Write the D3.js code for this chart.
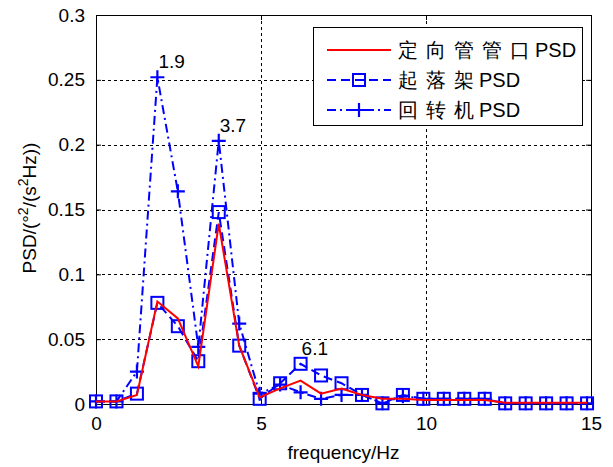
<!DOCTYPE html>
<html>
<head>
<meta charset="utf-8">
<script src="https://cdn.jsdelivr.net/npm/d3@7"></script>
<style>
  html, body { margin: 0; padding: 0; background: #fff; }
  svg { display: block; }
  text { font-family: Arial, "Liberation Sans", sans-serif; fill: #000; }
</style>
</head>
<body>
<svg id="chart" width="613" height="467"></svg>
<script>
// Frequency bins (Hz)
const freqs = [0, 0.62, 1.24, 1.86, 2.48, 3.10, 3.72, 4.34, 4.96, 5.58, 6.20, 6.82, 7.44,
               8.06, 8.68, 9.30, 9.92, 10.54, 11.16, 11.78, 12.40, 13.02, 13.64, 14.26, 14.88];

// PSD values per source
const nozzlePSD = [0.002, 0.002, 0.007, 0.079, 0.066, 0.029, 0.139, 0.045, 0.005, 0.012, 0.018, 0.008, 0.012,
                   0.007, 0.004, 0.004, 0.003, 0.003, 0.003, 0.003, 0.001, 0.001, 0.001, 0.001, 0.001];
const gearPSD   = [0.002, 0.002, 0.008, 0.078, 0.060, 0.033, 0.148, 0.045, 0.004, 0.016, 0.031, 0.022, 0.016,
                   0.007, 0.0005, 0.007, 0.004, 0.004, 0.004, 0.004, 0.0005, 0.0005, 0.0005, 0.0005, 0.0005];
const slewPSD   = [0.002, 0.002, 0.025, 0.252, 0.164, 0.044, 0.203, 0.062, 0.008, 0.015, 0.009, 0.004, 0.007,
                   0.007, 0.0005, 0.006, 0.004, 0.004, 0.004, 0.004, 0.0005, 0.0005, 0.0005, 0.0005, 0.0005];

const seriesNames = ["定向管管口", "起落架", "回转机"];

const xTicks = [0, 5, 10, 15];
const yTicks = [0, 0.05, 0.1, 0.15, 0.2, 0.25, 0.3];
const yTickLabels = ["0", "0.05", "0.1", "0.15", "0.2", "0.25", "0.3"];

// Peak annotations: text, series, bin index
const peakLabels = [
  { text: "1.9", series: 2, index: 3 },
  { text: "3.7", series: 2, index: 6 },
  { text: "6.1", series: 1, index: 10 }
];

const svg = d3.select("#chart");
const plot = { left: 96, right: 591, top: 15, bottom: 404 };
const FS = 19;

const x = d3.scaleLinear().domain([0, 15]).range([plot.left, plot.right]);
const y = d3.scaleLinear().domain([0, 0.3]).range([plot.bottom, plot.top]);

const blue = "#0000ff", red = "#ff0000";

// Grid
const grid = svg.append("g");
grid.selectAll("line.gx").data(xTicks.slice(1, -1)).join("line")
  .attr("x1", d => Math.round(x(d)) + 0.5).attr("x2", d => Math.round(x(d)) + 0.5)
  .attr("y1", plot.top).attr("y2", plot.bottom)
  .attr("stroke", "#000").attr("stroke-width", 1).attr("stroke-dasharray", "3,3");
grid.selectAll("line.gy").data(yTicks.slice(1, -1)).join("line")
  .attr("y1", d => Math.round(y(d)) + 0.5).attr("y2", d => Math.round(y(d)) + 0.5)
  .attr("x1", plot.left).attr("x2", plot.right)
  .attr("stroke", "#000").attr("stroke-width", 1).attr("stroke-dasharray", "3,3");

// Axes with inward ticks on all four sides
const axB = svg.append("g").attr("transform", `translate(0,${plot.bottom})`)
  .call(d3.axisBottom(x).tickValues(xTicks).tickSize(-5).tickPadding(13).tickFormat(d3.format("d")));
const axT = svg.append("g").attr("transform", `translate(0,${plot.top})`)
  .call(d3.axisTop(x).tickValues(xTicks).tickSize(-5).tickFormat(""));
const axL = svg.append("g").attr("transform", `translate(${plot.left},0)`)
  .call(d3.axisLeft(y).tickValues(yTicks).tickSize(-5).tickPadding(11)
    .tickFormat((d, i) => yTickLabels[i]));
const axR = svg.append("g").attr("transform", `translate(${plot.right},0)`)
  .call(d3.axisRight(y).tickValues(yTicks).tickSize(-5).tickFormat(""));

[axB, axT, axL, axR].forEach(g => {
  g.select(".domain").attr("stroke", "#000").attr("stroke-width", 1);
  g.selectAll(".tick line").attr("stroke", "#000");
  g.selectAll("text").attr("font-size", FS).attr("font-family", "Arial, 'Liberation Sans', sans-serif").attr("fill", "#000");
});

// Axis titles
svg.append("text")
  .attr("x", (plot.left + plot.right) / 2).attr("y", 459)
  .attr("text-anchor", "middle").attr("font-size", FS)
  .text("frequency/Hz");

const yl = svg.append("text")
  .attr("transform", "translate(36,208) rotate(-90)")
  .attr("text-anchor", "middle").attr("font-size", FS);
yl.append("tspan").text("PSD/(°");
yl.append("tspan").attr("dy", -8).attr("font-size", 14).text("2");
yl.append("tspan").attr("dy", 8).text("/(s");
yl.append("tspan").attr("dy", -8).attr("font-size", 14).text("2");
yl.append("tspan").attr("dy", 8).text("Hz))");

// Series
const series = [
  { name: seriesNames[0], values: nozzlePSD, color: red,  dash: null,       marker: "none" },
  { name: seriesNames[1], values: gearPSD,   color: blue, dash: "9,5",      marker: "square" },
  { name: seriesNames[2], values: slewPSD,   color: blue, dash: "9,4,2,4",  marker: "plus" }
];

const line = d3.line().x(d => x(d[0])).y(d => y(d[1]));
svg.append("defs").append("clipPath").attr("id", "plotclip")
  .append("rect").attr("x", plot.left - 10).attr("y", plot.top - 10)
  .attr("width", plot.right - plot.left + 20).attr("height", plot.bottom - plot.top + 20);

function drawMarker(g, kind, cx, cy, color) {
  if (kind === "square") {
    g.append("rect").attr("x", cx - 6).attr("y", cy - 6).attr("width", 12).attr("height", 12)
      .attr("fill", "none").attr("stroke", color).attr("stroke-width", 2);
  } else if (kind === "plus") {
    g.append("path").attr("d", `M${cx - 7},${cy}H${cx + 7}M${cx},${cy - 7}V${cy + 7}`)
      .attr("stroke", color).attr("stroke-width", 2.2).attr("fill", "none");
  }
}

const order = [2, 1, 0];
const lines = svg.append("g").attr("clip-path", "url(#plotclip)");
order.forEach(si => {
  const s = series[si];
  const pts = freqs.map((f, i) => [f, s.values[i]]);
  lines.append("path").datum(pts)
    .attr("d", line).attr("fill", "none")
    .attr("stroke", s.color).attr("stroke-width", 2)
    .attr("stroke-dasharray", s.dash)
    .attr("stroke-linejoin", "miter");
  const mg = lines.append("g");
  pts.forEach(p => drawMarker(mg, s.marker, x(p[0]), y(p[1]), s.color));
});

// Peak annotations
svg.append("g").selectAll("text").data(peakLabels).join("text")
  .attr("x", d => x(freqs[d.index]) + 1)
  .attr("y", d => y(series[d.series].values[d.index]) - 9)
  .attr("font-size", FS)
  .text(d => d.text);

// Legend
const lg = svg.append("g");
lg.append("rect").attr("x", 313.5).attr("y", 27.5).attr("width", 269).attr("height", 98)
  .attr("fill", "#fff").attr("stroke", "#000").attr("stroke-width", 1);
series.forEach((s, i) => {
  const cy = 50 + i * 30;
  lg.append("line").attr("x1", 327).attr("x2", 391).attr("y1", cy).attr("y2", cy)
    .attr("stroke", s.color).attr("stroke-width", 2).attr("stroke-dasharray", s.dash);
  drawMarker(lg, s.marker, 359, cy, s.color);
  const cjk = lg.append("text").attr("x", 398).attr("y", cy + 7).attr("font-size", 20)
    .attr("font-family", "'Noto Sans CJK SC', sans-serif")
    .attr("letter-spacing", 8).text(s.name);
  const w = cjk.node().getComputedTextLength();
  lg.append("text").attr("x", 398 + w - 3).attr("y", cy + 7).attr("font-size", 20)
    .attr("font-family", "Arial, 'Liberation Sans', sans-serif").text("PSD");
});
</script>
</body>
</html>
